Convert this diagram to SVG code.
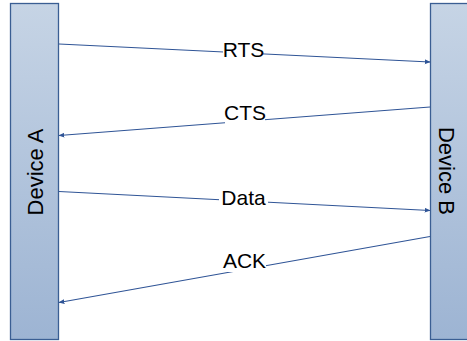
<svg xmlns="http://www.w3.org/2000/svg" width="467" height="341" viewBox="0 0 467 341">
<defs>
<linearGradient id="g" x1="0" y1="0" x2="0" y2="1">
<stop offset="0" stop-color="#c6d4e5"/>
<stop offset="1" stop-color="#9db4d3"/>
</linearGradient>
<marker id="ah" viewBox="0 0 10 10" refX="9" refY="5" markerWidth="6" markerHeight="6" orient="auto" markerUnits="userSpaceOnUse">
<path d="M0,1 L10,5 L0,9 z" fill="#2f5496"/>
</marker>
<style>
.dev{fill:url(#g);stroke:#3a5e93;stroke-width:1.3}
.lbl{font-family:"Liberation Sans",Arial,sans-serif;font-size:21px;fill:#000;text-anchor:middle}
.dlbl{font-size:22px}
.ln{stroke:#2f5496;stroke-width:1.2;fill:none;marker-end:url(#ah)}
.bg{fill:#fff}
</style>
</defs>
<g id="deviceA">
<rect class="dev" x="10.5" y="3.5" width="48" height="336"/>
<text class="lbl dlbl" transform="translate(43,172) rotate(-90)">Device A</text>
</g>
<g id="deviceB">
<rect class="dev" x="430.5" y="3.5" width="48" height="336"/>
<text class="lbl dlbl" transform="translate(439,171) rotate(90)">Device B</text>
</g>
<g id="connectors">
<path class="ln" d="M59,44 L430,62"/>
<path class="ln" d="M430,107 L59,135.5"/>
<path class="ln" d="M59,191.5 L430,210.5"/>
<path class="ln" d="M430,236.5 L59,302.5"/>
<rect class="bg" x="223" y="40" width="40" height="20"/>
<text class="lbl" x="243.5" y="56.5">RTS</text>
<rect class="bg" x="225" y="104" width="40" height="20"/>
<text class="lbl" x="245" y="120">CTS</text>
<rect class="bg" x="219" y="187" width="49" height="20"/>
<text class="lbl" x="243.5" y="204.5">Data</text>
<rect class="bg" x="223" y="252" width="43" height="20"/>
<text class="lbl" x="244.5" y="268">ACK</text>
</g>
</svg>
